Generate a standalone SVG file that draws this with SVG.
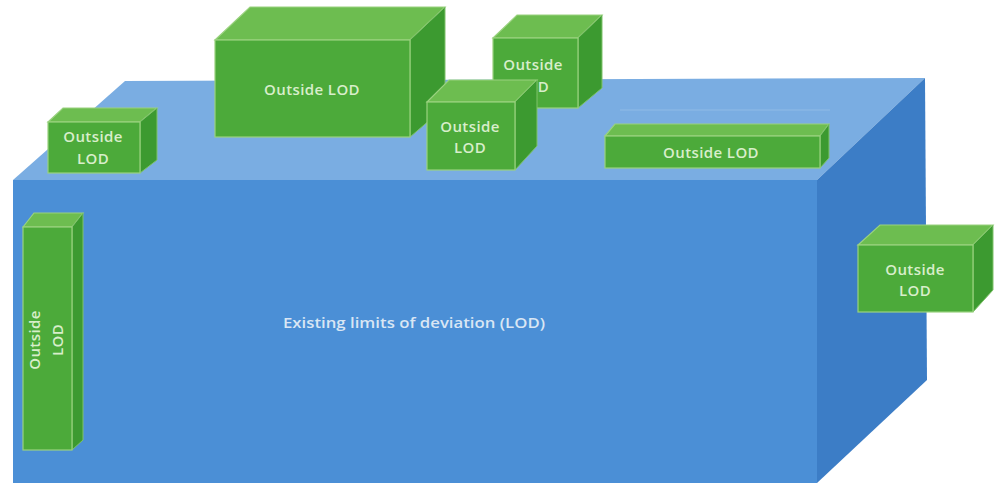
<svg xmlns="http://www.w3.org/2000/svg" width="999" height="483" viewBox="0 0 999 483">
  <style>
    .bfront { fill: #4b8fd6; }
    .btop { fill: #7aade2; }
    .bside { fill: #3c7dc6; }
    .gfront { fill: #4caa3a; stroke: #9ad27f; stroke-width: 1.2; }
    .gtop { fill: #6dbd50; stroke: #9ad27f; stroke-width: 1.2; }
    .gside { fill: #3c9a30; stroke: #7fc26a; stroke-width: 1; }
    .gt { font-family: "Open Sans", "Liberation Sans", sans-serif; font-size: 15px; font-weight: 600; letter-spacing: 0.4px; fill: #d8eecb; text-anchor: middle; }
    .bt { font-family: "Open Sans", "Liberation Sans", sans-serif; font-size: 15px; font-weight: 600; fill: #d9e6f4; }
  </style>

  <rect width="999" height="483" fill="#ffffff"/>

  <!-- main volume: existing limits of deviation -->
  <g id="lod-volume">
    <polygon class="btop" points="13,180 125,81 925,78 817,180"/>
    <polygon class="bside" points="817,180 925,78 927,380 817,483"/>
    <rect class="bfront" x="13" y="180" width="804" height="303"/>
    <line x1="620" y1="110" x2="830" y2="110" stroke="#9cc3ea" stroke-width="1" opacity="0.7"/>
    <text class="bt" x="283" y="328" textLength="262" lengthAdjust="spacingAndGlyphs">Existing limits of deviation (LOD)</text>
  </g>

  <!-- upper right block, partly behind the middle block -->
  <g id="box-top-right">
    <polygon class="gtop" points="493,38 517,15 602,15 578,38"/>
    <polygon class="gside" points="578,38 602,15 602,88 578,108"/>
    <rect class="gfront" x="493" y="38" width="85" height="70"/>
    <text class="gt" x="533" y="70">Outside</text>
    <text class="gt" x="533" y="92">LOD</text>
  </g>

  <!-- large block -->
  <g id="box-large">
    <polygon class="gtop" points="215,40 250,7 445,7 410,40"/>
    <polygon class="gside" points="410,40 445,7 445,107 410,137"/>
    <rect class="gfront" x="215" y="40" width="195" height="97"/>
    <text class="gt" x="312" y="95">Outside LOD</text>
  </g>

  <!-- middle block -->
  <g id="box-middle">
    <polygon class="gtop" points="427,102 449,80 537,80 515,102"/>
    <polygon class="gside" points="515,102 537,80 537,146 515,170"/>
    <rect class="gfront" x="427" y="102" width="88" height="68"/>
    <text class="gt" x="470" y="132">Outside</text>
    <text class="gt" x="470" y="153">LOD</text>
  </g>

  <!-- left block -->
  <g id="box-left">
    <polygon class="gtop" points="48,122 63,108 157,108 140,122"/>
    <polygon class="gside" points="140,122 157,108 157,160 140,173"/>
    <rect class="gfront" x="48" y="122" width="92" height="51"/>
    <text class="gt" x="93" y="142">Outside</text>
    <text class="gt" x="93" y="164">LOD</text>
  </g>

  <!-- long flat block -->
  <g id="box-flat">
    <polygon class="gtop" points="605,136 615,124 829,124 820,136"/>
    <polygon class="gside" points="820,136 829,124 829,158 820,168"/>
    <rect class="gfront" x="605" y="136" width="215" height="32"/>
    <text class="gt" x="711" y="158">Outside LOD</text>
  </g>

  <!-- block on the right side -->
  <g id="box-right">
    <polygon class="gtop" points="858,245 880,225 993,225 973,245"/>
    <polygon class="gside" points="973,245 993,225 993,290 973,312"/>
    <rect class="gfront" x="858" y="245" width="115" height="67"/>
    <text class="gt" x="915" y="275">Outside</text>
    <text class="gt" x="915" y="296">LOD</text>
  </g>

  <!-- tall block on the front face -->
  <g id="box-tall">
    <polygon class="gtop" points="23,227 34,213 83,213 72,227"/>
    <polygon class="gside" points="72,227 83,213 83,440 72,450"/>
    <rect class="gfront" x="23" y="227" width="49" height="223"/>
    <g transform="translate(47,340) rotate(-90)">
      <text class="gt" x="0" y="-7">Outside</text>
      <text class="gt" x="0" y="16">LOD</text>
    </g>
  </g>
</svg>
